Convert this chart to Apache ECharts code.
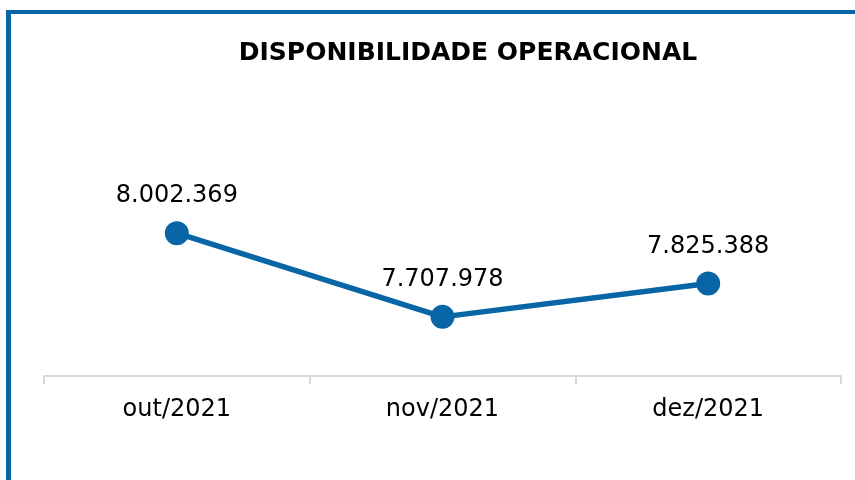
<!DOCTYPE html>
<html>
<head>
<meta charset="utf-8">
<script src="https://cdn.jsdelivr.net/npm/echarts@6/dist/echarts.min.js"></script>
<style>
  html, body { margin: 0; padding: 0; background: #fff; }
  #chart { width: 855px; height: 480px; }
</style>
</head>
<body>
<div id="chart"></div>
<script>
const months = ["out/2021", "nov/2021", "dez/2021"];
const disponibilidade = [8002369, 7707978, 7825388];
const titleText = "DISPONIBILIDADE OPERACIONAL";

const blue = "#0866a6";

// 8.002.369 style (pt-BR thousands separator)
function fmt(v) {
  return String(v).replace(/\B(?=(\d{3})+(?!\d))/g, ".");
}

const chart = echarts.init(document.getElementById("chart"));
chart.setOption({
  animation: false,
  title: {
    text: titleText,
    left: 463,
    top: 36,
    textAlign: "center",
    textStyle: {
      fontFamily: "DejaVu Sans",
      fontWeight: "bold",
      fontSize: 25,
      color: "#000"
    }
  },
  graphic: [
    { type: "rect", shape: { x: 6, y: 10, width: 5, height: 470 }, style: { fill: blue } },
    { type: "rect", shape: { x: 6, y: 10, width: 849, height: 4 }, style: { fill: blue } }
  ],
  grid: { left: 44, right: 14, top: 177, bottom: 104 },
  xAxis: {
    type: "category",
    data: months,
    boundaryGap: true,
    axisLine: { lineStyle: { color: "#d9d9d9", width: 2 } },
    axisTick: { show: true, length: 8, lineStyle: { color: "#d9d9d9", width: 2 } },
    axisLabel: {
      margin: 22,
      fontFamily: "DejaVu Sans",
      fontSize: 24,
      color: "#000"
    }
  },
  yAxis: {
    type: "value",
    min: 7500000,
    max: 8200000,
    show: false,
    splitLine: { show: false }
  },
  series: [{
    type: "line",
    data: disponibilidade,
    symbol: "circle",
    symbolSize: 24,
    lineStyle: { color: blue, width: 5.5 },
    itemStyle: { color: blue },
    label: {
      show: true,
      position: "top",
      distance: 13,
      formatter: p => fmt(p.value),
      fontFamily: "DejaVu Sans",
      fontSize: 24,
      color: "#000"
    }
  }]
});
</script>
</body>
</html>
